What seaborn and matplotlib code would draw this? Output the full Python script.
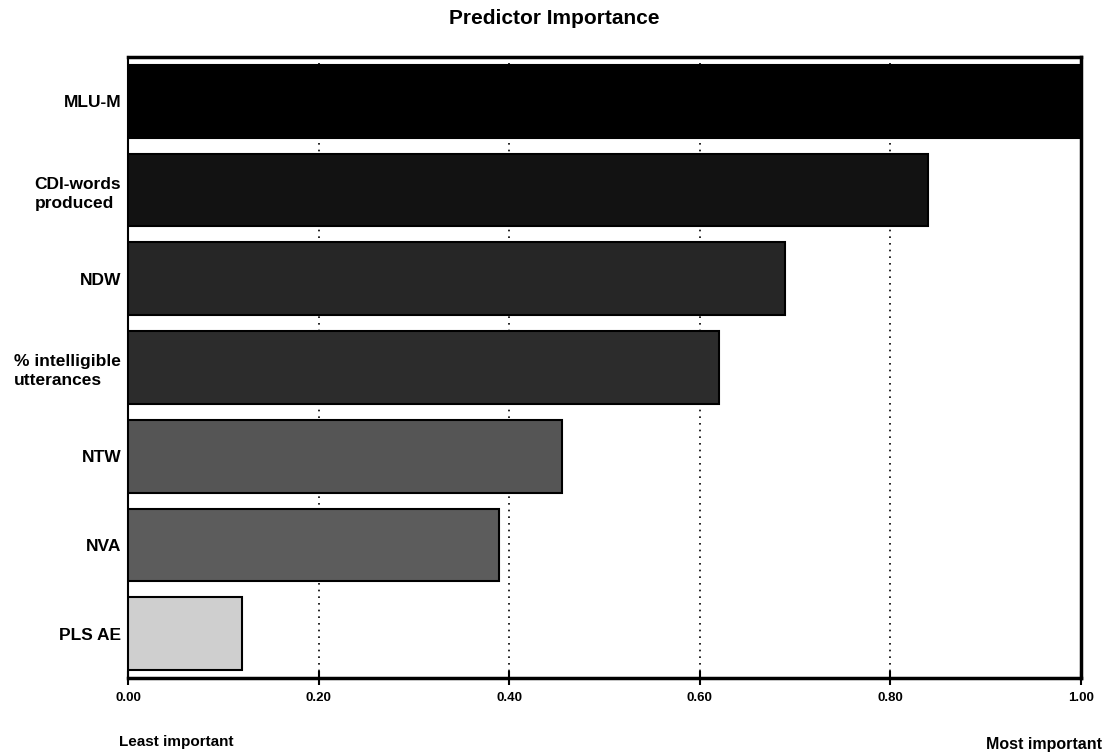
import matplotlib
matplotlib.use("Agg")
import matplotlib.pyplot as plt
import seaborn as sns
import pandas as pd

predictors = ["MLU-M", "CDI-words\nproduced", "NDW", "% intelligible\nutterances",
              "NTW", "NVA", "PLS AE"]
importance = [1.00, 0.84, 0.69, 0.62, 0.456, 0.389, 0.12]
bar_colors = ["#000000", "#121212", "#262626", "#2c2c2c", "#555555", "#5c5c5c", "#cfcfcf"]
ticks = [0.0, 0.2, 0.4, 0.6, 0.8, 1.0]
tick_labels = ["0.00", "0.20", "0.40", "0.60", "0.80", "1.00"]

df = pd.DataFrame({"Predictor": predictors, "Importance": importance})

sns.set_style("white", {"xtick.bottom": True, "text.color": "black",
                        "xtick.color": "black", "ytick.color": "black"})
plt.rcParams["font.family"] = ["Liberation Sans", "DejaVu Sans"]
plt.rcParams["text.color"] = "black"

fig = plt.figure(figsize=(11.08, 7.56), dpi=100)
ax = fig.add_axes([0.1155, 0.1032, 0.86, 0.8214])

sns.barplot(data=df, x="Importance", y="Predictor", hue="Predictor",
            palette=bar_colors, edgecolor="black", linewidth=1.5,
            width=0.82, legend=False, ax=ax, zorder=3)

ax.set_xlim(0, 1.0)
ax.set_ylim(6.5, -0.5)
ax.set_xticks(ticks)
ax.set_xticklabels(tick_labels, fontsize=9.5, fontweight="bold", color="black")
for lbl in ax.get_yticklabels():
    lbl.set_multialignment("left")
    lbl.set_linespacing(1.35)
    lbl.set_fontsize(12.5)
    lbl.set_fontweight("bold")
    lbl.set_color("black")
ax.tick_params(axis="y", left=False, length=0, pad=5)
ax.xaxis.set_tick_params(which="major", bottom=True, direction="inout", length=10,
                         width=1.5, pad=5, color="black")

for x in ticks[1:-1]:
    ax.axvline(x, color="black", linestyle=(0, (1, 3)), linewidth=1.2, zorder=1)

for side in ["top", "bottom", "right"]:
    ax.spines[side].set_linewidth(2.5)
    ax.spines[side].set_color("black")
ax.spines["left"].set_linewidth(1.5)
ax.spines["left"].set_color("black")

ax.set_xlabel("")
ax.set_ylabel("")
fig.text(0.5, 0.976, "Predictor Importance", fontsize=15, fontweight="bold",
         ha="center", va="center", color="black")

fig.text(0.107, 0.0185, "Least important", fontsize=11, fontweight="bold",
         ha="left", va="center", color="black")
fig.text(0.9946, 0.0146, "Most important", fontsize=11.5, fontweight="bold",
         ha="right", va="center", color="black")

fig.savefig("out.png", dpi=100)
